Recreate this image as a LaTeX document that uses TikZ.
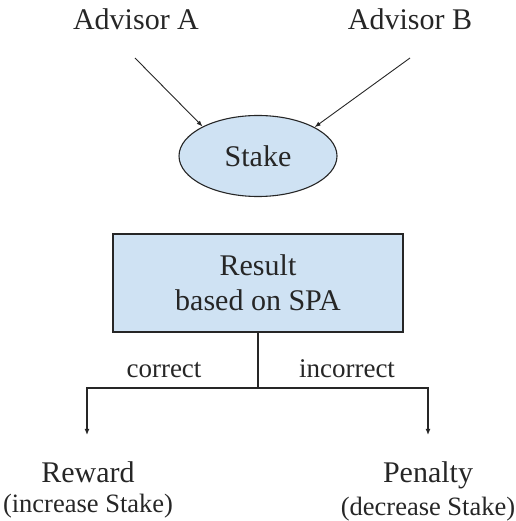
\documentclass[tikz,border=0pt]{standalone}
\usepackage{fontspec}
\setmainfont{Liberation Serif}
\usetikzlibrary{arrows.meta,calc,shapes.geometric}
\definecolor{boxblue}{HTML}{CFE2F3}
\definecolor{ink}{HTML}{262626}
\begin{document}
\begin{tikzpicture}[x=1pt,y=-1pt,
  lbl/.style={inner sep=0pt,anchor=base,text=ink,font=\fontsize{30}{35}\selectfont},
  sublbl/.style={inner sep=0pt,anchor=base,text=ink,font=\fontsize{26.5}{30}\selectfont},
  edgelbl/.style={inner sep=0pt,anchor=base,text=ink,font=\fontsize{27}{30}\selectfont},
  thinarrow/.style={draw=ink,line width=0.9pt,-{Latex[length=6pt,width=4.5pt]}},
  treeline/.style={draw=ink,line width=1.4pt},
  treearrow/.style={draw=ink,line width=1.4pt,-{Latex[length=6pt,width=5pt]}}]
\useasboundingbox (0,0) rectangle (515,521);
% top nodes
\node[lbl] (advA) at (136,30) {Advisor A};
\node[lbl] (advB) at (410,30) {Advisor B};
\node[ellipse,draw=ink,line width=1.1pt,fill=boxblue,minimum width=158pt,minimum height=81pt,inner sep=0pt,text=ink,font=\fontsize{30}{35}\selectfont] (stake) at (258,156) {Stake};
\draw[thinarrow] ($(advA.base)+(-1,28)$) -- (stake.152);
\draw[thinarrow] ($(advB.base)+(0,28)$) -- (stake.27);
% result box
\node[rectangle,draw=ink,line width=1.4pt,fill=boxblue,minimum width=290pt,minimum height=98pt,inner sep=0pt,align=center,text=ink,font=\fontsize{30}{35}\selectfont] (res) at (258,283) {Result\\based on SPA};
\coordinate (fork) at (258,388);
\node[lbl] (reward) at (88,482) {Reward};
\node[sublbl] (rewardsub) at (88,512) {(increase Stake)};
\node[lbl] (penalty) at (428,482) {Penalty};
\node[sublbl] (penaltysub) at (428,515) {(decrease Stake)};
\draw[treeline] (res.south) -- (fork);
\draw[treearrow] (fork) -| ([xshift=-1pt,yshift=26pt]reward.north);
\draw[treearrow] (fork) -| ([yshift=26pt]penalty.north);
\node[edgelbl] (corr) at (164,377) {correct};
\node[edgelbl] (incorr) at (347,377) {incorrect};
\end{tikzpicture}
\end{document}
